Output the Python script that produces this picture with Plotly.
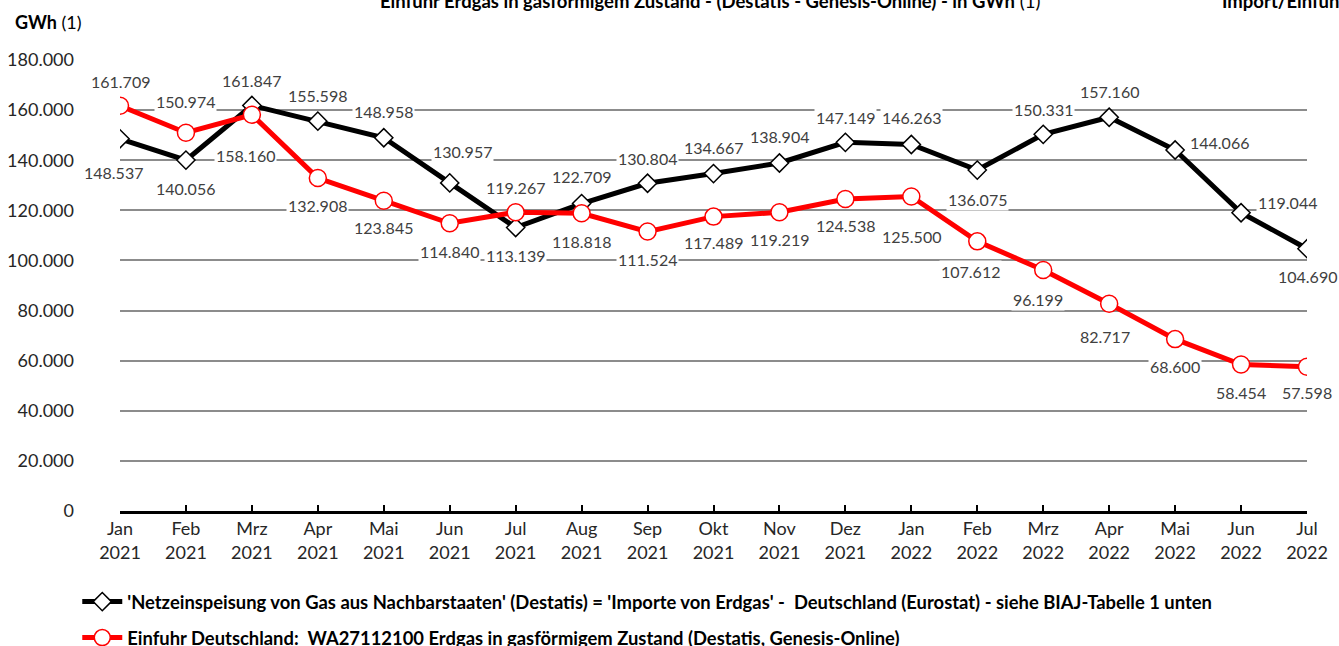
import plotly.graph_objects as go

# Monate (Jan 2021 - Jul 2022)
months = ["Jan", "Feb", "Mrz", "Apr", "Mai", "Jun", "Jul", "Aug", "Sep", "Okt",
          "Nov", "Dez", "Jan", "Feb", "Mrz", "Apr", "Mai", "Jun", "Jul"]
years = ["2021"] * 12 + ["2022"] * 7

# GWh
netzeinspeisung = [148537, 140056, 161847, 155598, 148958, 130957, 113139, 122709,
                   130804, 134667, 138904, 147149, 146263, 136075, 150331, 157160,
                   144066, 119044, 104690]
einfuhr = [161709, 150974, 158160, 132908, 123845, 114840, 119267, 118818,
           111524, 117489, 119219, 124538, 125500, 107612, 96199, 82717,
           68600, 58454, 57598]

y_ticks = [0, 20000, 40000, 60000, 80000, 100000, 120000, 140000, 160000, 180000]

name_black = ("'Netzeinspeisung von Gas aus Nachbarstaaten' (Destatis) = 'Importe von Erdgas' -  "
              "Deutschland (Eurostat) - siehe BIAJ-Tabelle 1 unten")
name_red = "Einfuhr Deutschland:  WA27112100 Erdgas in gasförmigem Zustand (Destatis, Genesis-Online)"

# label offsets in pixels (dx, dy; dy positive = down)
off_black = [(-7, 34), (0, 28), (0, -25), (0, -26), (0, -26), (13, -31), (0, 28), (0, -27),
             (0, -25), (0, -26), (0, -26), (0, -25), (0, -27), (0, 29), (0, -25), (0, -26),
             (44, -8), (46, -10), (0, 28)]
off_red = [(0, -24), (0, -31), (-6, 41), (0, 28), (0, 27), (0, 28), (0, -25), (0, 28),
           (0, 28), (0, 26), (0, 27), (0, 27), (0, 40), (-7, 30), (-5, 30), (-4, 33),
           (0, 27), (0, 28), (0, 26)]

FONT = "Lato"
x = list(range(len(months)))
ticktext = [f"{m}<br>{y}" for m, y in zip(months, years)]


def fmt(v):
    return f"{v:,}".replace(",", ".")


fig = go.Figure()
fig.add_trace(go.Scatter(
    x=x, y=netzeinspeisung, name=name_black, mode="lines+markers",
    line=dict(color="black", width=5),
    marker=dict(symbol="diamond", size=14, color="white", line=dict(color="black", width=1.5)),
    legendgroup="a",
))
fig.add_trace(go.Scatter(
    x=x, y=einfuhr, name=name_red, mode="lines+markers",
    line=dict(color="#ff0000", width=5),
    marker=dict(symbol="circle", size=17, color="white", line=dict(color="#ff0000", width=1.5)),
    legendgroup="b",
))

annotations = []
for vals, offs in ((netzeinspeisung, off_black), (einfuhr, off_red)):
    for i, (v, (dx, dy)) in enumerate(zip(vals, offs)):
        annotations.append(dict(
            x=i, y=v, xref="x", yref="y", text=fmt(v), showarrow=False,
            xshift=dx, yshift=-dy, bgcolor="white", borderpad=1,
            font=dict(family=FONT, size=16, color="#404040"),
        ))

annotations += [
    dict(x=-0.0901, y=1.084, xref="paper", yref="paper", xanchor="left", yanchor="middle",
         text="<b>GWh</b> (1)", showarrow=False, font=dict(family=FONT, size=18, color="black")),
    dict(x=0.497, y=1.13, xref="paper", yref="paper", xanchor="center", yanchor="middle",
         text="<b>Einfuhr Erdgas in gasförmigem Zustand - (Destatis - Genesis-Online) - in GWh</b> (1)",
         showarrow=False, font=dict(family=FONT, size=18.5, color="black")),
    dict(x=0.9267, y=1.13, xref="paper", yref="paper", xanchor="left", yanchor="middle",
         text="<b>Import/Einfuhr</b>", showarrow=False, font=dict(family=FONT, size=18.5, color="black")),
]

fig.update_layout(
    width=1339, height=646,
    margin=dict(l=120, r=32, t=60, b=135, autoexpand=False),
    paper_bgcolor="white", plot_bgcolor="white",
    separators=",.",
    font=dict(family=FONT, color="#262626"),
    showlegend=True,
    legend=dict(
        x=-0.036, y=-0.16, xanchor="left", yanchor="top",
        traceorder="grouped", tracegroupgap=9,
        font=dict(family=FONT, size=18.4, color="black", weight="bold"),
        bgcolor="rgba(0,0,0,0)", itemwidth=40,
    ),
    annotations=annotations,
)
fig.update_xaxes(
    range=[0, 18], tickvals=x, ticktext=ticktext,
    showgrid=False, zeroline=False,
    showline=True, linecolor="black", linewidth=2.5,
    ticks="inside", ticklen=6, tickwidth=2, tickcolor="black",
    tickfont=dict(family=FONT, size=18, color="#262626"),
)
fig.update_yaxes(
    range=[0, 180000], tickvals=y_ticks, tickformat=",d",
    showgrid=True, gridcolor="#8c8c8c", gridwidth=2,
    zeroline=False, showline=False, ticks="",
    ticklabelstandoff=45,
    tickfont=dict(family=FONT, size=18, color="#262626"),
)

fig.write_html("out.html", config={"displayModeBar": False},
               post_script="document.body.style.margin='0';")
